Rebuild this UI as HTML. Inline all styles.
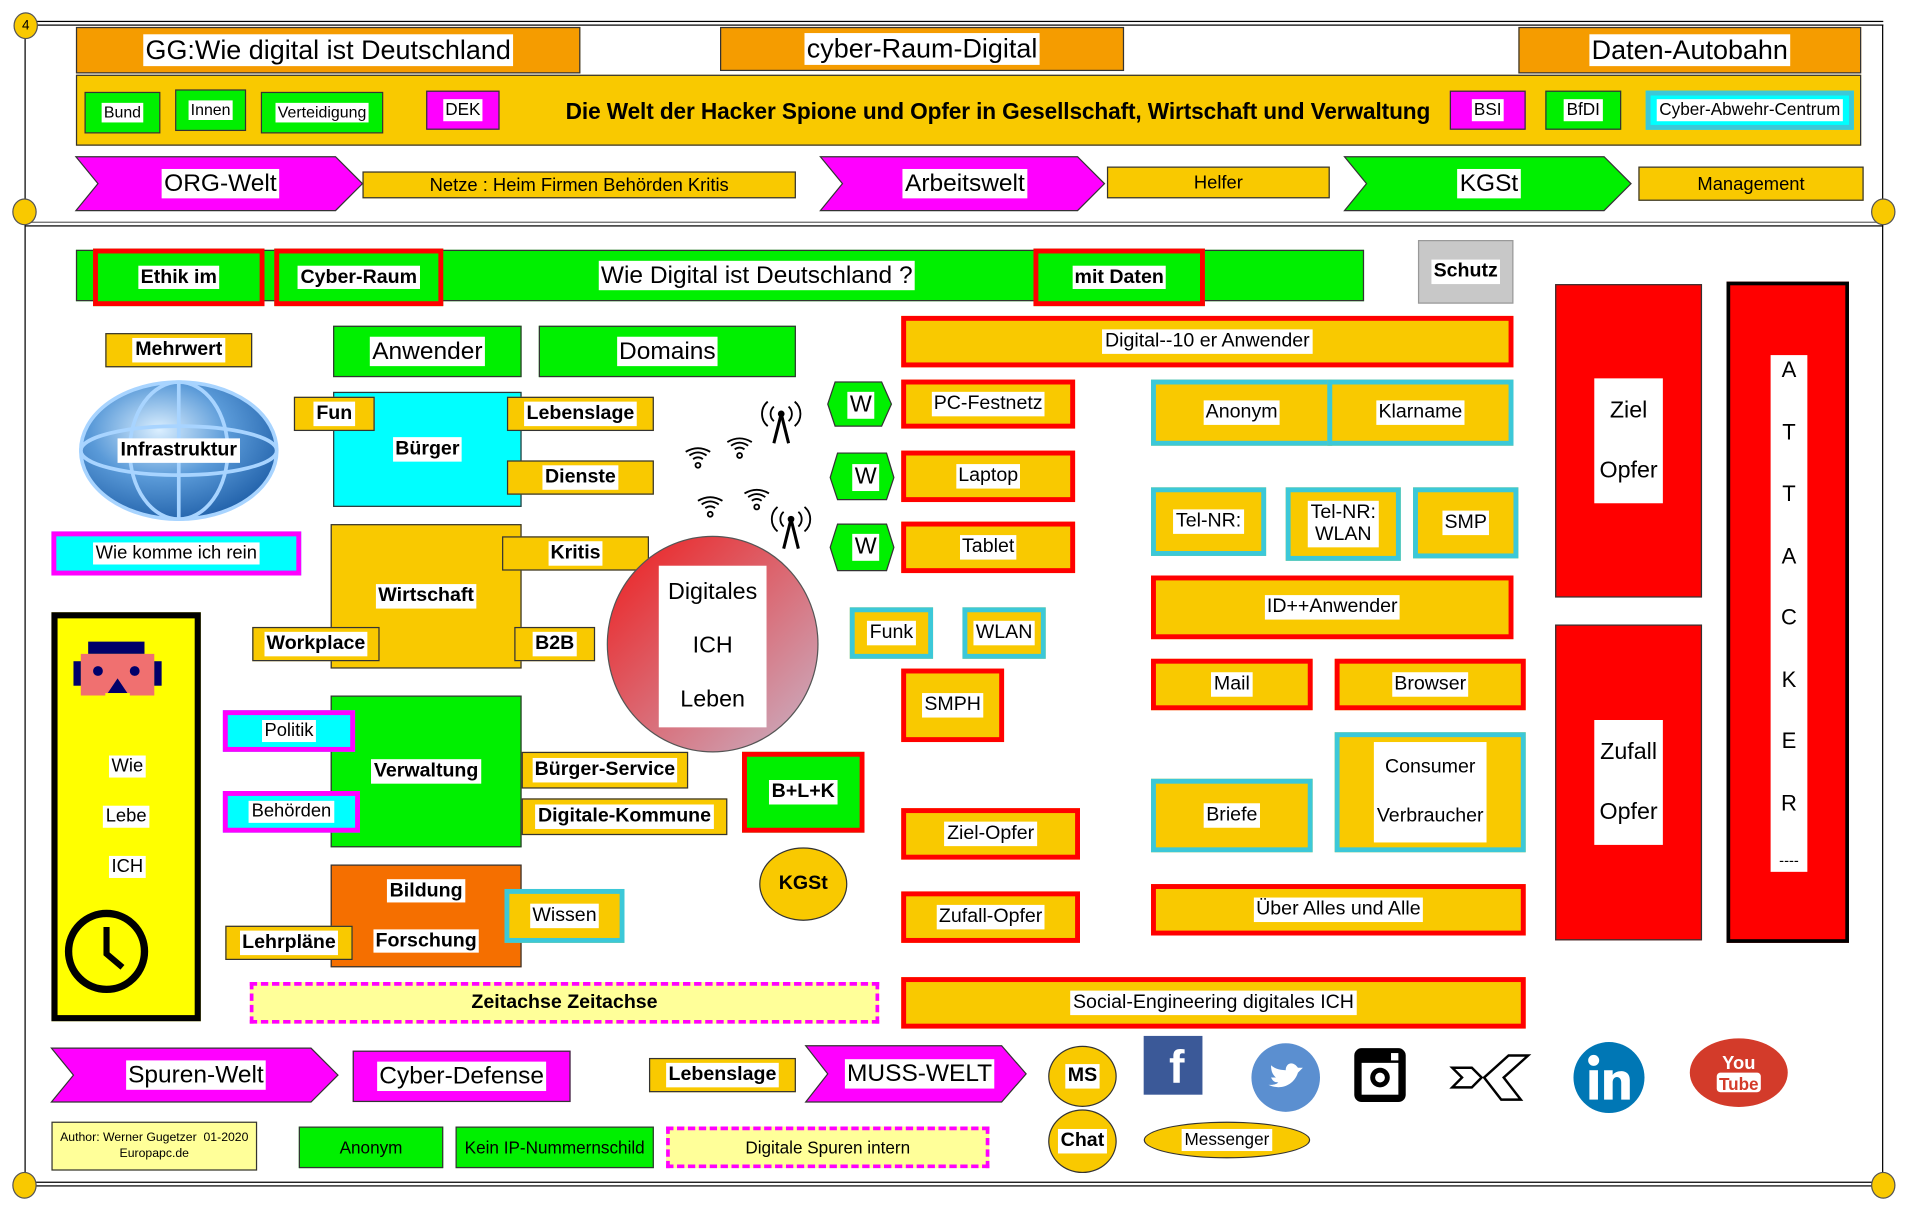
<!DOCTYPE html>
<html><head><meta charset="utf-8">
<style>
html,body{margin:0;padding:0;background:#fff;width:1920px;height:1214px;overflow:hidden}
#c{position:absolute;left:0;top:0;width:1568px;height:992px;transform:scale(1.22449);transform-origin:0 0;font-family:"Liberation Sans",sans-serif;color:#000}
.b{position:absolute;box-sizing:border-box;display:flex;align-items:center;justify-content:center;text-align:center}
.b span{background:#fff;padding:1px 2px;line-height:1.1}
.y{background:#f9c900;border:1px solid #333}
.g{background:#00f000;border:1px solid #333}
.o{background:#f59c00;border:1px solid #333}
.m{background:#ff00ff;border:1px solid #333}
.cy{background:#00ffff;border:1px solid #333}
.rb{border:4px solid #f00}
.cb{border:4px solid #3cc8d8}
.mb{border:4px solid #ff00ff}
.bo{font-weight:bold}
.ln{position:absolute;background:#000}
.dot{position:absolute;width:20px;height:22px;border-radius:50%;background:#f9c900;border:1px solid #555;box-sizing:border-box;font-size:11px;text-align:center;line-height:20px}
svg{position:absolute}
</style></head><body><div id="c">
<!-- frame -->
<div class="ln" style="left:20px;top:17px;width:1518px;height:1px"></div>
<div class="ln" style="left:20px;top:20px;width:1518px;height:1px"></div>
<div class="ln" style="left:20px;top:181px;width:1518px;height:1px;background:#666"></div>
<div class="ln" style="left:20px;top:184px;width:1518px;height:1px"></div>
<div class="ln" style="left:20px;top:965px;width:1518px;height:1px"></div>
<div class="ln" style="left:20px;top:968px;width:1518px;height:1px"></div>
<div class="ln" style="left:20px;top:20px;width:1px;height:948px"></div>
<div class="ln" style="left:1537px;top:20px;width:1px;height:948px"></div>
<div class="dot" style="left:11px;top:10px">4</div>
<div class="dot" style="left:10px;top:162px"></div>
<div class="dot" style="left:10px;top:957px"></div>
<div class="dot" style="left:1528px;top:162px"></div>
<div class="dot" style="left:1528px;top:957px"></div>

<!-- header -->
<div class="b o" style="left:62px;top:22px;width:412px;height:38px;font-size:22px"><span>GG:Wie digital ist Deutschland</span></div>
<div class="b o" style="left:588px;top:22px;width:330px;height:36px;font-size:22px"><span>cyber-Raum-Digital</span></div>
<div class="b o" style="left:1240px;top:22px;width:280px;height:38px;font-size:22px"><span>Daten-Autobahn</span></div>
<div class="b y" style="left:62px;top:61px;width:1458px;height:58px"></div>
<div class="b g" style="left:70px;top:76px;width:60px;height:32px;font-size:13px;border:4px solid #00f000;outline:1px solid #333"><span>Bund</span></div>
<div class="b g" style="left:144px;top:74px;width:56px;height:32px;font-size:13px;border:4px solid #00f000;outline:1px solid #333"><span>Innen</span></div>
<div class="b g" style="left:214px;top:76px;width:98px;height:32px;font-size:13px;border:4px solid #00f000;outline:1px solid #333"><span>Verteidigung</span></div>
<div class="b m" style="left:348px;top:74px;width:60px;height:32px;font-size:14px"><span>DEK</span></div>
<div class="b bo" style="left:440px;top:78px;width:750px;height:26px;font-size:18.5px;letter-spacing:-0.1px">Die Welt der Hacker Spione und Opfer in Gesellschaft, Wirtschaft und Verwaltung</div>
<div class="b m" style="left:1184px;top:74px;width:62px;height:32px;font-size:14px"><span>BSI</span></div>
<div class="b g" style="left:1262px;top:74px;width:62px;height:32px;font-size:14px"><span>BfDI</span></div>
<div class="b cb" style="left:1344px;top:74px;width:170px;height:32px;font-size:14px;background:#00ffff"><span>Cyber-Abwehr-Centrum</span></div>

<!-- chevrons row -->
<svg width="1568" height="992" style="left:0;top:0">
<polygon points="62,128 274,128 296,150 274,172 62,172 80,150" fill="#ff00ff" stroke="#333"/>
<polygon points="670,128 880,128 902,150 880,172 670,172 688,150" fill="#ff00ff" stroke="#333"/>
<polygon points="1098,128 1310,128 1332,150 1310,172 1098,172 1116,150" fill="#00f000" stroke="#333"/>
<polygon points="42,856 254,856 276,878 254,900 42,900 60,878" fill="#ff00ff" stroke="#333"/>
<polygon points="658,854 818,854 838,877 818,900 658,900 676,877" fill="#ff00ff" stroke="#333"/>
</svg>
<div class="b" style="left:80px;top:128px;width:200px;height:44px;font-size:20px"><span>ORG-Welt</span></div>
<div class="b y" style="left:296px;top:140px;width:354px;height:22px;font-size:15px">Netze : Heim Firmen Behörden Kritis</div>
<div class="b" style="left:688px;top:128px;width:200px;height:44px;font-size:20px"><span>Arbeitswelt</span></div>
<div class="b y" style="left:904px;top:136px;width:182px;height:26px;font-size:15px">Helfer</div>
<div class="b" style="left:1116px;top:128px;width:200px;height:44px;font-size:20px"><span>KGSt</span></div>
<div class="b y" style="left:1338px;top:136px;width:184px;height:28px;font-size:15px">Management</div>

<!-- main -->
<div class="b g" style="left:62px;top:204px;width:1052px;height:42px;font-size:20px"><span style="margin-left:60px">Wie Digital ist Deutschland ?</span></div>
<div class="b rb bo" style="left:76px;top:203px;width:140px;height:47px;font-size:16px;background:#00f000"><span>Ethik im</span></div>
<div class="b rb bo" style="left:224px;top:203px;width:138px;height:47px;font-size:16px;background:#00f000"><span>Cyber-Raum</span></div>
<div class="b rb bo" style="left:844px;top:203px;width:140px;height:47px;font-size:16px;background:#00f000"><span>mit Daten</span></div>
<div class="b bo" style="left:1158px;top:196px;width:78px;height:52px;font-size:16px;background:#c8c8c8;border:1px solid #999"><span>Schutz</span></div>

<div class="b y bo" style="left:86px;top:272px;width:120px;height:28px;font-size:16px"><span>Mehrwert</span></div>
<svg width="180" height="120" style="left:56px;top:308px">
<defs><radialGradient id="gl" cx="40%" cy="35%" r="70%"><stop offset="0" stop-color="#dbefff"/><stop offset="0.5" stop-color="#5a9ad8"/><stop offset="1" stop-color="#1f5fa8"/></radialGradient></defs>
<ellipse cx="90" cy="60" rx="80" ry="56" fill="url(#gl)"/>
<g fill="none" stroke="#a8d4ff" stroke-width="3"><ellipse cx="90" cy="60" rx="80" ry="56"/><ellipse cx="90" cy="60" rx="40" ry="56"/><ellipse cx="90" cy="60" rx="80" ry="20"/><line x1="90" y1="4" x2="90" y2="116"/></g>
</svg>
<div class="b bo" style="left:90px;top:356px;width:112px;height:24px;font-size:16px"><span>Infrastruktur</span></div>

<div class="b g" style="left:272px;top:266px;width:154px;height:42px;font-size:20px"><span>Anwender</span></div>
<div class="b g" style="left:440px;top:266px;width:210px;height:42px;font-size:20px"><span>Domains</span></div>
<div class="b cy bo" style="left:272px;top:320px;width:154px;height:94px;font-size:16px"><span>Bürger</span></div>
<div class="b y bo" style="left:240px;top:324px;width:66px;height:28px;font-size:16px"><span>Fun</span></div>
<div class="b y bo" style="left:414px;top:324px;width:120px;height:28px;font-size:16px"><span>Lebenslage</span></div>
<div class="b y bo" style="left:414px;top:376px;width:120px;height:28px;font-size:16px"><span>Dienste</span></div>
<div class="b mb" style="left:42px;top:434px;width:204px;height:36px;font-size:15px;background:#00ffff"><span>Wie komme ich rein</span></div>

<div class="b y bo" style="left:270px;top:428px;width:156px;height:118px;font-size:16px"><span>Wirtschaft</span></div>
<div class="b y bo" style="left:410px;top:438px;width:120px;height:28px;font-size:16px"><span>Kritis</span></div>
<div class="b y bo" style="left:206px;top:512px;width:104px;height:28px;font-size:16px"><span>Workplace</span></div>
<div class="b y bo" style="left:420px;top:512px;width:66px;height:28px;font-size:16px"><span>B2B</span></div>

<svg width="180" height="182" style="left:492px;top:436px">
<defs><linearGradient id="rg" x1="0" y1="0" x2="1" y2="1"><stop offset="0" stop-color="#ee1c1c"/><stop offset="1" stop-color="#c8b4c8"/></linearGradient></defs>
<ellipse cx="90" cy="90" rx="86" ry="88" fill="url(#rg)" stroke="#555"/>
</svg>
<div class="b" style="left:538px;top:462px;width:88px;height:132px;background:#fff;flex-direction:column;justify-content:space-around;font-size:19px"><div>Digitales</div><div>ICH</div><div>Leben</div></div>

<!-- wifi icons -->
<svg width="120" height="130" style="left:552px;top:322px" fill="none" stroke="#000" stroke-width="1.5">
<g transform="translate(86,10)"><line x1="0" y1="6" x2="-6" y2="30" stroke-width="2.5"/><line x1="0" y1="6" x2="6" y2="30" stroke-width="2.5"/><circle cx="0" cy="6" r="2" fill="#000"/><path d="M-6,0 a8,8 0 0 0 0,12 M6,0 a8,8 0 0 1 0,12 M-11,-4 a13,13 0 0 0 0,20 M11,-4 a13,13 0 0 1 0,20"/></g>
<g transform="translate(94,96)"><line x1="0" y1="6" x2="-6" y2="30" stroke-width="2.5"/><line x1="0" y1="6" x2="6" y2="30" stroke-width="2.5"/><circle cx="0" cy="6" r="2" fill="#000"/><path d="M-6,0 a8,8 0 0 0 0,12 M6,0 a8,8 0 0 1 0,12 M-11,-4 a13,13 0 0 0 0,20 M11,-4 a13,13 0 0 1 0,20"/></g>
<g transform="translate(18,48)"><circle cx="0" cy="10" r="2"/><path d="M-4,5 q4,-3 8,0 M-7,2 q7,-5 14,0 M-10,-1 q10,-6 20,0"/></g>
<g transform="translate(52,40)"><circle cx="0" cy="10" r="2"/><path d="M-4,5 q4,-3 8,0 M-7,2 q7,-5 14,0 M-10,-1 q10,-6 20,0"/></g>
<g transform="translate(28,88)"><circle cx="0" cy="10" r="2"/><path d="M-4,5 q4,-3 8,0 M-7,2 q7,-5 14,0 M-10,-1 q10,-6 20,0"/></g>
<g transform="translate(66,82)"><circle cx="0" cy="10" r="2"/><path d="M-4,5 q4,-3 8,0 M-7,2 q7,-5 14,0 M-10,-1 q10,-6 20,0"/></g>
</svg>

<div class="b g bo" style="left:270px;top:568px;width:156px;height:124px;font-size:16px"><span>Verwaltung</span></div>
<div class="b mb" style="left:182px;top:580px;width:108px;height:34px;font-size:15px;background:#00ffff"><span>Politik</span></div>
<div class="b mb" style="left:182px;top:646px;width:112px;height:34px;font-size:15px;background:#00ffff"><span>Behörden</span></div>
<div class="b y bo" style="left:426px;top:614px;width:136px;height:30px;font-size:16px"><span>Bürger-Service</span></div>
<div class="b y bo" style="left:426px;top:652px;width:168px;height:30px;font-size:16px"><span>Digitale-Kommune</span></div>
<div class="b rb bo" style="left:606px;top:614px;width:100px;height:66px;font-size:16px;background:#00f000"><span>B+L+K</span></div>
<div class="b bo" style="left:620px;top:692px;width:72px;height:60px;border-radius:50%;background:#f9c900;border:1px solid #333;font-size:16px">KGSt</div>

<div class="b bo" style="left:270px;top:706px;width:156px;height:84px;background:#f56f00;border:1px solid #333;flex-direction:column;justify-content:space-around;font-size:16px"><span>Bildung</span><span>Forschung</span></div>
<div class="b cb" style="left:412px;top:726px;width:98px;height:44px;font-size:16px;background:#f9c900"><span>Wissen</span></div>
<div class="b y bo" style="left:184px;top:756px;width:104px;height:28px;font-size:16px"><span>Lehrpläne</span></div>
<div class="b bo" style="left:204px;top:802px;width:514px;height:34px;font-size:16px;background:#ffff99;border:3px dashed #ff00ff">Zeitachse Zeitachse</div>

<div class="b" style="left:42px;top:500px;width:122px;height:334px;background:#ffff00;border:5px solid #000"></div>
<svg width="80" height="60" style="left:58px;top:520px">
<rect x="14" y="4" width="46" height="10" fill="#00006a"/>
<rect x="8" y="14" width="60" height="34" fill="#f07070"/>
<rect x="2" y="20" width="6" height="20" fill="#00006a"/><rect x="68" y="20" width="6" height="20" fill="#00006a"/>
<circle cx="22" cy="28" r="4" fill="#00006a"/><circle cx="52" cy="28" r="4" fill="#00006a"/>
<polygon points="30,46 38,34 46,46" fill="#00006a"/><rect x="28" y="46" width="20" height="4" fill="#ffff00"/>
</svg>
<div class="b" style="left:86px;top:616px;width:36px;height:20px;font-size:15px"><span>Wie</span></div>
<div class="b" style="left:82px;top:657px;width:42px;height:20px;font-size:15px"><span>Lebe</span></div>
<div class="b" style="left:86px;top:698px;width:36px;height:20px;font-size:15px"><span>ICH</span></div>
<svg width="74" height="74" style="left:50px;top:740px"><circle cx="37" cy="37" r="31" fill="none" stroke="#000" stroke-width="6"/><polyline points="37,17 37,39 50,50" fill="none" stroke="#000" stroke-width="5"/></svg>

<!-- middle column -->
<div class="b rb" style="left:736px;top:258px;width:500px;height:42px;font-size:16px;background:#f9c900"><span>Digital--10 er Anwender</span></div>
<svg width="60" height="180" style="left:672px;top:310px">
<g fill="#00f000" stroke="#333"><polygon points="10,2 48,2 56,20 48,38 10,38 4,20"/><polygon points="12,60 52,60 58,80 52,98 12,98 6,80"/><polygon points="12,118 52,118 58,137 52,156 12,156 6,137"/></g>
</svg>
<div class="b" style="left:688px;top:318px;width:30px;height:26px;font-size:19px"><span>W</span></div>
<div class="b" style="left:692px;top:377px;width:30px;height:26px;font-size:19px"><span>W</span></div>
<div class="b" style="left:692px;top:434px;width:30px;height:26px;font-size:19px"><span>W</span></div>
<div class="b rb" style="left:736px;top:310px;width:142px;height:40px;font-size:16px;background:#f9c900"><span>PC-Festnetz</span></div>
<div class="b rb" style="left:736px;top:368px;width:142px;height:42px;font-size:16px;background:#f9c900"><span>Laptop</span></div>
<div class="b rb" style="left:736px;top:426px;width:142px;height:42px;font-size:16px;background:#f9c900"><span>Tablet</span></div>
<div class="b cb" style="left:694px;top:496px;width:68px;height:42px;font-size:16px;background:#f9c900"><span>Funk</span></div>
<div class="b cb" style="left:786px;top:496px;width:68px;height:42px;font-size:16px;background:#f9c900"><span>WLAN</span></div>
<div class="b rb" style="left:736px;top:546px;width:84px;height:60px;font-size:16px;background:#f9c900"><span>SMPH</span></div>
<div class="b rb" style="left:736px;top:660px;width:146px;height:42px;font-size:16px;background:#f9c900"><span>Ziel-Opfer</span></div>
<div class="b rb" style="left:736px;top:728px;width:146px;height:42px;font-size:16px;background:#f9c900"><span>Zufall-Opfer</span></div>
<div class="b rb" style="left:736px;top:798px;width:510px;height:42px;font-size:16px;background:#f9c900"><span>Social-Engineering digitales ICH</span></div>

<!-- right -->
<div class="b cb" style="left:940px;top:310px;width:148px;height:54px;font-size:16px;background:#f9c900"><span>Anonym</span></div>
<div class="b cb" style="left:1084px;top:310px;width:152px;height:54px;font-size:16px;background:#f9c900"><span>Klarname</span></div>
<div class="b cb" style="left:940px;top:398px;width:94px;height:56px;font-size:16px;background:#f9c900"><span>Tel-NR:</span></div>
<div class="b cb" style="left:1050px;top:398px;width:94px;height:60px;font-size:16px;background:#f9c900"><span>Tel-NR:<br>WLAN</span></div>
<div class="b cb" style="left:1154px;top:398px;width:86px;height:58px;font-size:16px;background:#f9c900"><span>SMP</span></div>
<div class="b rb" style="left:940px;top:470px;width:296px;height:52px;font-size:16px;background:#f9c900"><span>ID++Anwender</span></div>
<div class="b rb" style="left:940px;top:538px;width:132px;height:42px;font-size:16px;background:#f9c900"><span>Mail</span></div>
<div class="b rb" style="left:1090px;top:538px;width:156px;height:42px;font-size:16px;background:#f9c900"><span>Browser</span></div>
<div class="b cb" style="left:1090px;top:598px;width:156px;height:98px;font-size:16px;background:#f9c900"><span style="line-height:2.5">Consumer<br>Verbraucher</span></div>
<div class="b cb" style="left:940px;top:636px;width:132px;height:60px;font-size:16px;background:#f9c900"><span>Briefe</span></div>
<div class="b rb" style="left:940px;top:722px;width:306px;height:42px;font-size:16px;background:#f9c900"><span>Über Alles und Alle</span></div>

<div class="b" style="left:1270px;top:232px;width:120px;height:256px;background:#f00;border:1px solid #333"><span style="font-size:19px;line-height:2.6;padding:2px 4px">Ziel<br>Opfer</span></div>
<div class="b" style="left:1270px;top:510px;width:120px;height:258px;background:#f00;border:1px solid #333"><span style="font-size:19px;line-height:2.6;padding:2px 4px">Zufall<br>Opfer</span></div>
<div class="b" style="left:1410px;top:230px;width:100px;height:540px;background:#f00;border:3px solid #000"></div>
<div class="b" style="left:1446px;top:290px;width:30px;height:422px;background:#fff;flex-direction:column;justify-content:space-between;font-size:18px;padding:2px 0"><div>A</div><div>T</div><div>T</div><div>A</div><div>C</div><div>K</div><div>E</div><div>R</div><div style="font-size:12px">----</div></div>

<!-- bottom -->
<div class="b" style="left:60px;top:856px;width:200px;height:44px;font-size:20px"><span>Spuren-Welt</span></div>
<div class="b m" style="left:288px;top:858px;width:178px;height:42px;font-size:20px"><span>Cyber-Defense</span></div>
<div class="b y bo" style="left:530px;top:864px;width:120px;height:28px;font-size:16px"><span>Lebenslage</span></div>
<div class="b" style="left:676px;top:854px;width:150px;height:46px;font-size:20px"><span>MUSS-WELT</span></div>
<div class="b bo" style="left:856px;top:854px;width:56px;height:50px;border-radius:50%;background:#f9c900;border:1px solid #333;font-size:16px"><span>MS</span></div>
<div class="b bo" style="left:856px;top:906px;width:56px;height:52px;border-radius:50%;background:#f9c900;border:1px solid #333;font-size:16px"><span>Chat</span></div>
<div class="b" style="left:934px;top:916px;width:136px;height:30px;border-radius:50%;background:#f9c900;border:1px solid #333;font-size:14px"><span>Messenger</span></div>
<div class="b" style="left:934px;top:846px;width:48px;height:48px;background:#3b5998;color:#fff;font-weight:bold;font-size:38px;align-items:flex-end;padding-left:6px">f</div>
<svg width="60" height="60" style="left:1020px;top:850px"><circle cx="30" cy="30" r="28" fill="#5b8fd0"/><path d="M16,36 C24,40 36,38 40,26 L44,22 L40,22 C36,16 30,18 30,24 C24,24 20,22 18,20 C18,26 20,28 22,30 C20,30 18,30 18,30 C20,34 22,34 24,34 C22,36 18,36 16,36Z" fill="#fff"/></svg>
<svg width="46" height="48" style="left:1104px;top:854px"><rect x="2" y="2" width="42" height="44" rx="6" fill="#000"/><rect x="8" y="14" width="30" height="26" fill="#fff"/><circle cx="23" cy="26" r="8" fill="#000"/><circle cx="23" cy="26" r="4" fill="#fff"/><rect x="32" y="6" width="6" height="6" fill="#fff"/></svg>
<svg width="72" height="44" style="left:1182px;top:858px"><polygon points="4,14 20,14 28,22 20,30 4,30 12,22" fill="none" stroke="#000" stroke-width="2"/><polygon points="30,22 50,4 66,4 46,22 60,40 44,40" fill="none" stroke="#000" stroke-width="2"/></svg>
<svg width="60" height="60" style="left:1284px;top:850px"><circle cx="30" cy="30" r="29" fill="#0077b5"/><rect x="14" y="24" width="7" height="24" fill="#fff"/><circle cx="17.5" cy="16" r="4.5" fill="#fff"/><path d="M26,24 h7 v4 c2,-4 14,-6 14,4 v16 h-7 v-14 c0,-6 -7,-6 -7,0 v14 h-7Z" fill="#fff"/></svg>
<svg width="84" height="60" style="left:1378px;top:846px"><ellipse cx="42" cy="30" rx="40" ry="28" fill="#d33b2a"/><text x="42" y="27" text-anchor="middle" font-family="Liberation Sans" font-weight="bold" font-size="15" fill="#fff">You</text><rect x="24" y="30" width="36" height="16" rx="3" fill="#fff"/><text x="42" y="44" text-anchor="middle" font-family="Liberation Sans" font-weight="bold" font-size="14" fill="#d33b2a">Tube</text></svg>

<div class="b" style="left:42px;top:916px;width:168px;height:40px;background:#ffff99;border:1px solid #333;font-size:10px;line-height:1.3">Author: Werner Gugetzer&nbsp; 01-2020<br>Europapc.de</div>
<div class="b g" style="left:244px;top:920px;width:118px;height:34px;font-size:14px">Anonym</div>
<div class="b g" style="left:372px;top:920px;width:162px;height:34px;font-size:14px">Kein IP-Nummernschild</div>
<div class="b" style="left:544px;top:920px;width:264px;height:34px;font-size:14px;background:#ffff99;border:3px dashed #ff00ff">Digitale Spuren intern</div>
</div></body></html>
